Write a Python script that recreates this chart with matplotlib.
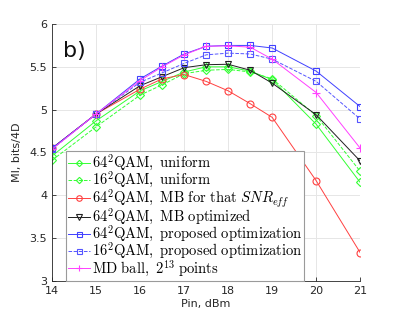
import matplotlib
matplotlib.use("Agg")
import matplotlib.pyplot as plt

pin = [14, 15, 16, 16.5, 17, 17.5, 18, 18.5, 19, 20, 21]

qam64_uniform = [4.46, 4.87, 5.22, 5.33, 5.44, 5.50, 5.50, 5.45, 5.35, 4.83, 4.15]
qam16_uniform = [4.41, 4.80, 5.17, 5.29, 5.42, 5.46, 5.47, 5.44, 5.36, 4.93, 4.28]
mb_snr_eff    = [4.55, 4.95, 5.24, 5.36, 5.41, 5.33, 5.22, 5.07, 4.91, 4.17, 3.33]
mb_optimized  = [4.55, 4.95, 5.28, 5.385, 5.49, 5.525, 5.53, 5.46, 5.31, 4.94, 4.40]
qam64_prop    = [4.55, 4.95, 5.36, 5.51, 5.65, 5.74, 5.75, 5.75, 5.72, 5.45, 5.035]
qam16_prop    = [4.54, 4.95, 5.32, 5.43, 5.54, 5.64, 5.66, 5.65, 5.59, 5.33, 4.89]
md_ball       = [4.54, 4.95, 5.34, 5.50, 5.64, 5.74, 5.745, 5.73, 5.59, 5.20, 4.55]

labels = [
    r"$\mathrm{64^2QAM,\ uniform}$",
    r"$\mathrm{16^2QAM,\ uniform}$",
    r"$\mathrm{64^2QAM,\ MB\ for\ that\ }SNR_{eff}$",
    r"$\mathrm{64^2QAM,\ MB\ optimized}$",
    r"$\mathrm{64^2QAM,\ proposed\ optimization}$",
    r"$\mathrm{16^2QAM,\ proposed\ optimization}$",
    r"$\mathrm{MD\ ball,\ 2^{13}\ points}$",
]

plt.rcParams['mathtext.fontset'] = 'cm'

fig = plt.figure(figsize=(3.98, 3.16), dpi=100)
ax = fig.add_axes([0.131, 0.111, 0.774, 0.813])

series = [
    (qam64_uniform, '#33ff33', '-', 'D', 4.0),
    (qam16_uniform, '#33ff33', '--', 'D', 4.0),
    (mb_snr_eff, '#ff4040', '-', 'o', 5.0),
    (mb_optimized, '#202020', '-', 'v', 5.0),
    (qam64_prop, '#4040ff', '-', 's', 4.5),
    (qam16_prop, '#5555ff', '--', 's', 4.5),
    (md_ball, '#ff40ff', '-', '+', 6.0),
]

for (y, c, ls, m, ms), lab in zip(series, labels):
    ax.plot(pin, y, color=c, ls=ls, marker=m, ms=ms, mfc='none', mec=c,
            lw=0.7, mew=0.8, label=lab)

ax.set_xlim(14, 21)
ax.set_ylim(3, 6)
ax.set_xticks(range(14, 22))
ax.set_yticks([3, 3.5, 4, 4.5, 5, 5.5, 6])
ax.set_yticklabels(['3', '3.5', '4', '4.5', '5', '5.5', '6'])
ax.grid(True, color='#e6e6e6', lw=0.7)
ax.set_axisbelow(True)
for s in ['top', 'right']:
    ax.spines[s].set_visible(False)
for s in ['left', 'bottom']:
    ax.spines[s].set_color('#262626')
    ax.spines[s].set_linewidth(0.6)
ax.tick_params(direction='in', length=3, width=0.6, colors='#262626', labelsize=8)
ax.set_xlabel('Pin, dBm', fontsize=8, color='#262626', labelpad=2)
ax.set_ylabel('MI, bits/4D', fontsize=8, color='#262626')
ax.yaxis.set_label_coords(-0.098, 0.5)

ax.text(0.035, 0.87, 'b)', transform=ax.transAxes, fontsize=16, color='#111111')

leg = ax.legend(loc='lower left', bbox_to_anchor=(0.045, 0.0), fontsize=10.5,
                handlelength=1.5, handletextpad=0.1, borderpad=0.15,
                labelspacing=-0.2, borderaxespad=0.0, fancybox=False,
                framealpha=1.0, edgecolor='#9a9a9a', markerscale=0.8)
leg.get_frame().set_linewidth(0.8)

fig.savefig('out.png', dpi=100)
